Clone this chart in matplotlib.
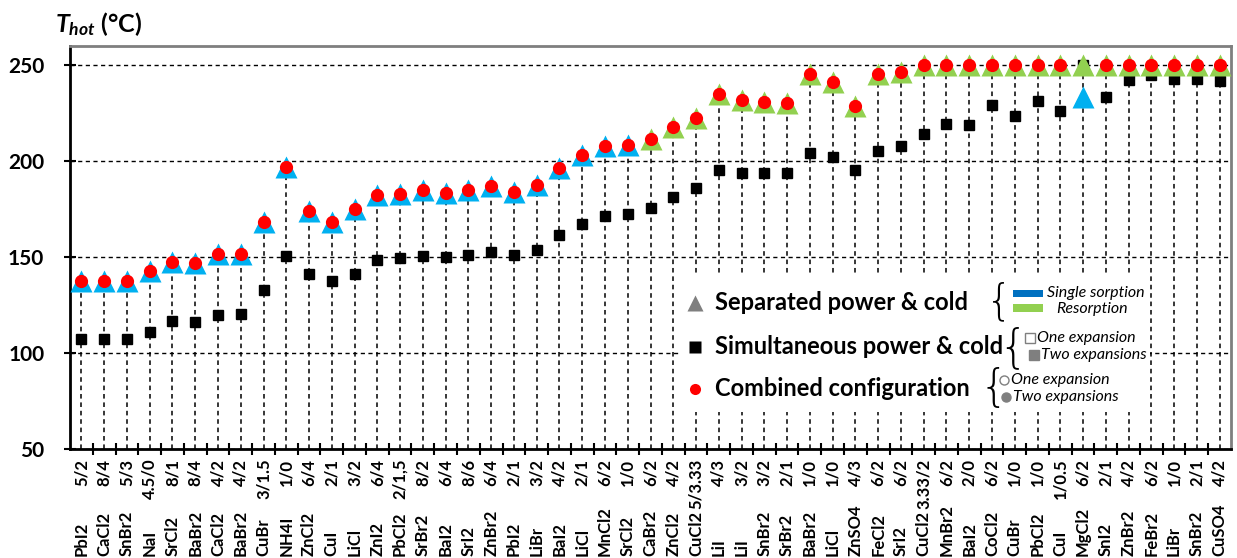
import numpy as np
import matplotlib
matplotlib.use("Agg")
import matplotlib.pyplot as plt
from matplotlib.patches import Rectangle
import matplotlib.transforms as mtransforms

plt.rcParams['font.family'] = ['Lato', 'DejaVu Sans']
plt.rcParams['mathtext.fontset'] = 'custom'
plt.rcParams['mathtext.it'] = 'Lato:italic:bold'
plt.rcParams['mathtext.rm'] = 'Lato:bold'

nan = np.nan

salts = ["PbI2", "CaCl2", "SnBr2", "NaI", "SrCl2", "BaBr2", "CaCl2", "BaBr2", "CuBr", "NH4I",
         "ZnCl2", "CuI", "LiCl", "ZnI2", "PbCl2", "SrBr2", "BaI2", "SrI2", "ZnBr2", "PbI2",
         "LiBr", "BaI2", "LiCl", "MnCl2", "SrCl2", "CaBr2", "ZnCl2", "CuCl2", "LiI", "LiI",
         "SnBr2", "SrBr2", "BaBr2", "LiCl", "ZnSO4", "FeCl2", "SrI2", "CuCl2", "MnBr2", "BaI2",
         "CoCl2", "CuBr", "PbCl2", "CuI", "MgCl2", "SnI2", "ZnBr2", "FeBr2", "LiBr", "SnBr2",
         "CuSO4"]
ratios = ["5/2", "8/4", "5/3", "4.5/0", "8/1", "8/4", "4/2", "4/2", "3/1.5", "1/0",
          "6/4", "2/1", "3/2", "6/4", "2/1,5", "8/2", "6/4", "8/6", "6/4", "2/1",
          "3/2", "4/2", "2/1", "6/2", "1/0", "6/2", "4/2", "5/3.33", "4/3", "3/2",
          "3/2", "2/1", "1/0", "1/0", "4/3", "6/2", "6/2", "3.33/2", "6/2", "2/0",
          "6/2", "1/0", "1/0", "1/0.5", "6/2", "2/1", "4/2", "6/2", "1/0", "2/1",
          "4/2"]

# separated power & cold, single sorption
single_sorption = [137.5, 137.5, 137.5, 143, 147.5, 147, 151.5, 151.5, 168.5, 197,
                   174, 168.5, 175, 182.5, 183, 185, 183.5, 185, 187, 184,
                   187.5, 196.5, 203, 208, 208.5, nan, nan, nan, nan, nan,
                   nan, nan, nan, nan, nan, nan, nan, nan, nan, nan,
                   nan, nan, nan, nan, 233.5, nan, nan, nan, nan, nan,
                   nan]
# separated power & cold, resorption
resorption = [nan, nan, nan, nan, nan, nan, nan, nan, nan, nan,
              nan, nan, nan, nan, nan, nan, nan, nan, nan, nan,
              nan, nan, nan, nan, nan, 211.5, 218, 222.5, 235, 232,
              231, 230.5, 245.5, 241, 228.5, 245.5, 246.5, 250, 250, 250,
              250, 250, 250, 250, 250, 250, 250, 250, 250, 250,
              250]
simultaneous = [107.5, 107.5, 107.5, 111, 116.5, 116, 120, 120.5, 133, 150.5,
                141, 137.5, 141, 148.5, 149.5, 150.5, 150, 151, 152.5, 151,
                153.5, 161.5, 167.5, 171.5, 172.5, 175.5, 181.5, 186, 195.5, 194,
                194, 194, 204.5, 202, 195.5, 205.5, 208, 214, 219.5, 219,
                229, 223.5, 231.5, 226, 250, 233.5, 242.5, 245, 243, 243,
                242]
combined = [137.5, 137.5, 137.5, 143, 147.5, 147, 151.5, 151.5, 168.5, 197,
            174, 168.5, 175, 182.5, 183, 185, 183.5, 185, 187, 184,
            187.5, 196.5, 203, 208, 208.5, 211.5, 218, 222.5, 235, 232,
            231, 230.5, 245.5, 241, 228.5, 245.5, 246.5, 250, 250, 250,
            250, 250, 250, 250, nan, 250, 250, 250, 250, 250,
            250]

x = np.arange(len(salts))
tops = np.nanmax(np.vstack([single_sorption, resorption, simultaneous, combined]), axis=0)

fig = plt.figure(figsize=(12.37, 5.58), dpi=100)
ax = fig.add_axes([70 / 1237, 1 - 449 / 558, 1161 / 1237, 403 / 558])

# drop lines from the highest marker down to the axis
ax.vlines(x, 50, tops, colors='k', linestyles=(0, (3, 2.5)), lw=1.1, zorder=1)

ax.plot(x, simultaneous, 's', color='k', ms=7.5, zorder=3)
ax.plot(x, single_sorption, '^', color='#00B0F0', ms=16.5, mec='none', zorder=4)
ax.plot(x, resorption, '^', color='#92D050', ms=16.5, mec='none', zorder=4)
ax.plot(x, combined, 'o', color='#FF0000', ms=9.5, mec='none', zorder=5)

ax.set_xlim(-0.5, len(salts) - 0.5)
ax.set_ylim(50, 260)
ax.set_yticks([50, 100, 150, 200, 250])
ax.yaxis.grid(True, color='k', ls=(0, (3, 2.5)), lw=1.0, zorder=0)
ax.set_axisbelow(True)
ax.tick_params(axis='y', direction='inout', length=9, width=1.5, labelsize=15, pad=14)
for lab in ax.get_yticklabels():
    lab.set_fontweight('bold')

ax.set_xticks(x, ratios, rotation=90)
ax.set_xticks(x[:-1] + 0.5, minor=True)
ax.tick_params(axis='x', which='major', length=0, labelsize=12, pad=7)
ax.tick_params(axis='x', which='minor', direction='inout', length=9, width=1.5)
for lab in ax.get_xticklabels():
    lab.set_fontweight('bold')

# salt names sit at the bottom edge of the figure
trans = mtransforms.blended_transform_factory(ax.transData, fig.transFigure)
for xi, name in zip(x, salts):
    ax.text(xi, 1.5 / 558, name, transform=trans, rotation=90, ha='center', va='bottom',
            fontsize=12, fontweight='bold', clip_on=False)

for side in ['left', 'bottom']:
    ax.spines[side].set_linewidth(2)
    ax.spines[side].set_color('k')
for side in ['top', 'right']:
    ax.spines[side].set_linewidth(2)
    ax.spines[side].set_color('#7f7f7f')

fig.text(55 / 1237, 1 - 32 / 558, r'$T_{hot}$ (°C)', fontsize=18, fontweight='bold')


# legend, placed in axes fraction from pixel positions
def fx(px):
    return (px - 70) / 1161


def fy(py):
    return (449 - py) / 403


T = ax.transAxes
ax.add_patch(Rectangle((fx(680), fy(412)), fx(1150) - fx(680), fy(274) - fy(412),
                       transform=T, facecolor='white', edgecolor='none', zorder=6))

rows = [(303, '^', '#7f7f7f', 11, "Separated power & cold"),
        (347, 's', 'k', 8, "Simultaneous power & cold"),
        (389, 'o', '#FF0000', 8, "Combined configuration")]
for py, mk, col, size, label in rows:
    ax.plot([fx(695)], [fy(py)], mk, color=col, ms=size, mec='none', transform=T,
            zorder=7, clip_on=False)
    ax.text(fx(715), fy(py), label, transform=T, ha='left', va='center',
            fontsize=17, fontweight='bold', zorder=7)

braces = [(999, 302, 30), (1013, 348, 33), (994, 388, 32)]
for px, py, size in braces:
    ax.text(fx(px), fy(py), '{', transform=T, ha='center', va='center',
            fontsize=size, family='DejaVu Sans', fontweight='light', zorder=7)

ax.add_patch(Rectangle((fx(1013), fy(297)), fx(1043) - fx(1013), fy(290) - fy(297),
                       transform=T, facecolor='#0070C0', edgecolor='none', zorder=7))
ax.add_patch(Rectangle((fx(1013), fy(312)), fx(1043) - fx(1013), fy(304) - fy(312),
                       transform=T, facecolor='#92D050', edgecolor='none', zorder=7))
ax.text(fx(1096), fy(293), "Single sorption", transform=T, ha='center', va='center',
        fontsize=11.5, style='italic', zorder=7)
ax.text(fx(1092), fy(309), "Resorption", transform=T, ha='center', va='center',
        fontsize=11.5, style='italic', zorder=7)

subs = [(1030, 338, 's', 'none', "One expansion"),
        (1034, 355, 's', '#7f7f7f', "Two expansions"),
        (1004, 380, 'o', 'none', "One expansion"),
        (1006, 397, 'o', '#7f7f7f', "Two expansions")]
for px, py, mk, face, label in subs:
    ax.plot([fx(px)], [fy(py)], mk, ms=6.5, mfc=face, mec='#7f7f7f', mew=1,
            transform=T, zorder=7, clip_on=False)
    ax.text(fx(px + 7), fy(py), label, transform=T, ha='left', va='center',
            fontsize=11.5, style='italic', zorder=7)

fig.savefig('out.png', dpi=100)
